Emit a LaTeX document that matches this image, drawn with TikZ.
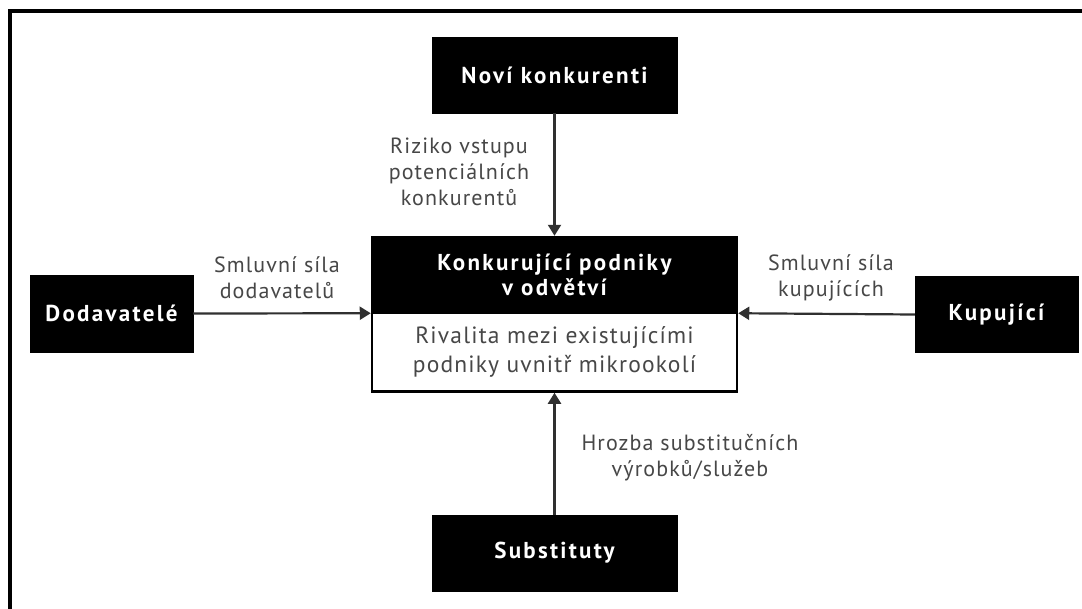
\documentclass[tikz,border=0pt]{standalone}
\usepackage{fontspec}
\setmainfont{PT Sans}
\newfontfamily\boxfont[LetterSpace=10]{PT Sans}
\newfontfamily\labfont[LetterSpace=5]{PT Sans}
\usetikzlibrary{arrows.meta}
\definecolor{lbl}{HTML}{474747}
\definecolor{arr}{HTML}{303030}
\begin{document}
\begin{tikzpicture}[x=1pt,y=-1pt,
  darkbox/.style={rectangle,fill=black,draw=black,inner sep=0pt,text=white,
    font=\boxfont\fontsize{23}{25}\selectfont\bfseries,align=center},
  whitebox/.style={rectangle,fill=white,draw=black,line width=2.5pt,inner sep=0pt,
    text=lbl,font=\labfont\fontsize{23.5}{29}\selectfont,align=center},
  lab/.style={text=lbl,font=\labfont\fontsize{22}{26}\selectfont,align=center,inner sep=0pt},
  force/.style={draw=arr,line width=2.2pt,-{Triangle[length=11pt,width=13pt]}}]
\useasboundingbox (0,0) rectangle (1082,608);
\fill[white] (0,0) rectangle (1082,608);
\draw[line width=4pt,line cap=rect] (9.5,608) -- (9.5,10.5) -- (1082,10.5);
% boxes
\node[darkbox,minimum width=245pt,minimum height=76pt] (new) at (554.5,75) {Noví konkurenti};
\node[darkbox,minimum width=245pt,minimum height=76pt] (subs) at (554.5,553) {Substituty};
\node[darkbox,minimum width=163pt,minimum height=77pt] (supp) at (111.5,313.5) {Dodavatelé};
\node[darkbox,minimum width=163pt,minimum height=76pt] (buy) at (996.5,314.5) {Kupující};
\node[whitebox,minimum width=365pt,minimum height=79pt] (cbot) at (554.5,352)
  {Rivalita mezi existujícími\\podniky uvnitř mikrookolí};
\node[darkbox,minimum width=365pt,minimum height=75pt,line width=2.5pt] (ctop) at (554.5,274.5)
  {Konkurující podniky\\v odvětví};
% connectors
\draw[force] (new.south) -- (ctop.north);
\draw[force] (subs.north) -- (cbot.south);
\draw[force] (supp.east) -- (ctop.south west);
\draw[force] (buy.west) -- (ctop.south east);
% labels
\node[lab] (l1) at (459,172) {Riziko vstupu\\potenciálních\\konkurentů};
\node[lab] (l2) at (277,278) {Smluvní síla\\dodavatelů};
\node[lab] (l3) at (831,278) {Smluvní síla\\kupujících};
\node[lab] (l4) at (690,458) {Hrozba substitučních\\výrobků/služeb};
\end{tikzpicture}
\end{document}
